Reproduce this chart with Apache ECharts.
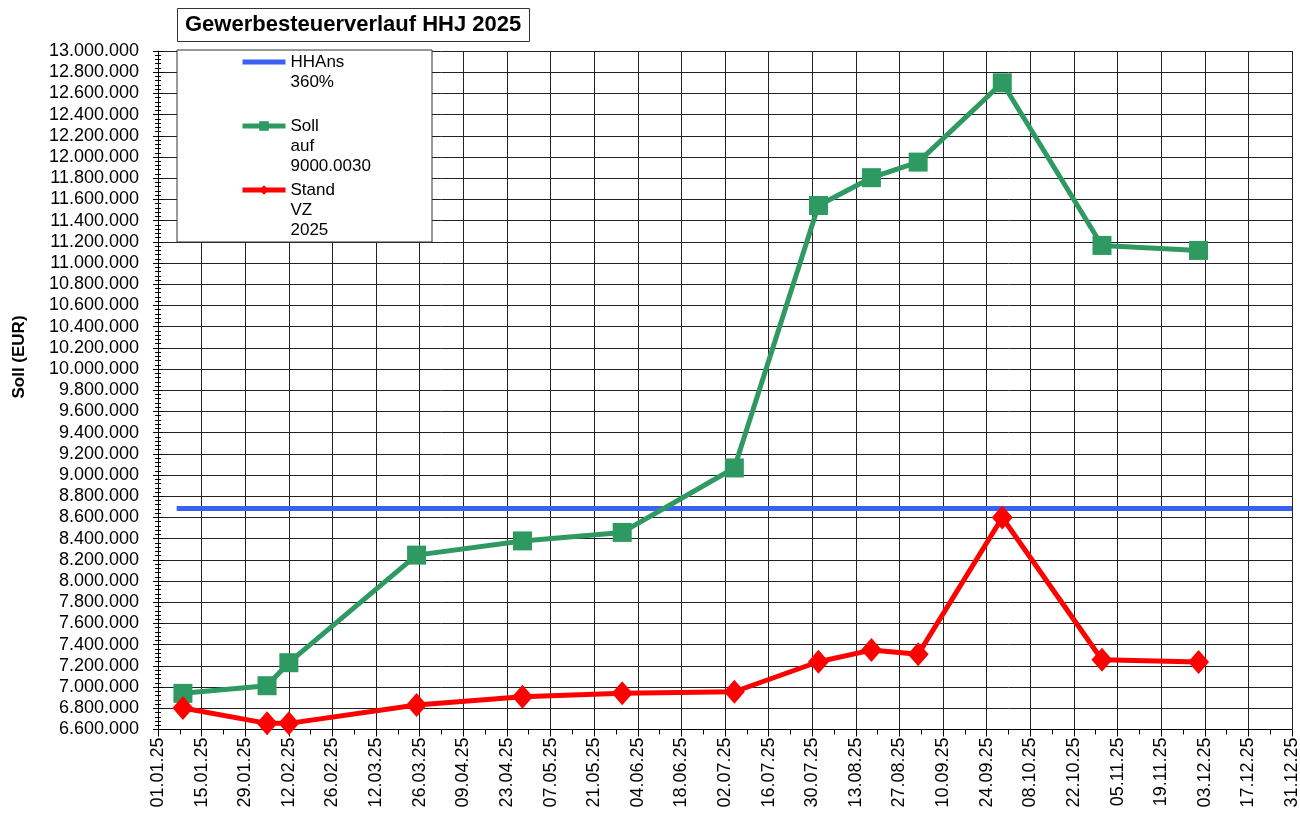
<!DOCTYPE html>
<html>
<head>
<meta charset="utf-8">
<script src="https://cdn.jsdelivr.net/npm/echarts@6/dist/echarts.min.js"></script>
<style>
  html, body { margin: 0; padding: 0; background: #fff; }
  #chart { width: 1300px; height: 815px; }
</style>
</head>
<body>
<div id="chart"></div>
<script>
  // Stichtage (dd.mm.yy) und Werte
  const dates = ['09.01.25', '05.02.25', '12.02.25', '25.03.25', '28.04.25', '30.05.25', '05.07.25',
    '01.08.25', '18.08.25', '02.09.25', '29.09.25', '31.10.25', '01.12.25']
  const sollValues = [6941000, 7013000, 7230000, 8245000, 8379000, 8459000, 9067000,
    11543000, 11805000, 11952000, 12700000, 11166000, 11119000]
  const standValues = [6803000, 6658000, 6658000, 6831000, 6909000, 6941000, 6956000,
    7239000, 7349000, 7309000, 8600000, 7258000, 7237000]
  const hhansDates = ['07.01.25', '31.12.25']
  const hhansValues = [8685000, 8685000]

  const names = ['HHAns\n360%', 'Soll\nauf\n9000.0030', 'Stand\nVZ\n2025']

  const DAY = 86400000
  const BASE = Date.UTC(2025, 0, 1)
  const pad = n => (n < 10 ? '0' : '') + n
  const dayOf = s => {
    const [d, m, y] = s.split('.').map(Number)
    return Math.round((Date.UTC(2000 + y, m - 1, d) - BASE) / DAY)
  }
  const fmtDay = n => {
    const dt = new Date(BASE + n * DAY)
    return pad(dt.getUTCDate()) + '.' + pad(dt.getUTCMonth() + 1) + '.' + String(dt.getUTCFullYear()).slice(2)
  }
  const fmtNum = v => String(v).replace(/\B(?=(\d{3})+(?!\d))/g, '.')

  const font = 'Liberation Sans'

  // one legend per entry; leading blank lines put the icon on the first text line
  const legendTops = [62, 126, 190]
  const legends = names.map((n, i) => {
    const lines = n.split('\n').length
    const lg = {
      data: [n],
      left: 240,
      top: legendTops[i] - (2 * lines - 1) * 10,
      orient: 'vertical',
      padding: 0,
      z: 20,
      itemWidth: 43,
      itemHeight: 12,
      formatter: name => '\n'.repeat(lines - 1) + name,
      lineStyle: { width: 5 },
      textStyle: { fontFamily: font, fontSize: 17, color: '#000', lineHeight: 20 }
    }
    if (i === 0) lg.itemStyle = { color: 'rgba(0,0,0,0)', borderWidth: 0 }
    return lg
  })

  const chart = echarts.init(document.getElementById('chart'))
  chart.setOption({
    backgroundColor: '#fff',
    animation: false,
    title: {
      text: 'Gewerbesteuerverlauf HHJ 2025',
      left: 177,
      top: 8,
      padding: [6, 8],
      borderWidth: 1,
      borderColor: '#333',
      textStyle: { fontFamily: font, fontSize: 22, fontWeight: 'bold', color: '#000' }
    },
    graphic: [
      {
        type: 'rect',
        shape: { x: 177, y: 50, width: 255, height: 192 },
        style: { fill: '#fff', stroke: '#333', lineWidth: 1 },
        z: 5
      },
      {
        type: 'text',
        x: 19, y: 357,
        rotation: Math.PI / 2,
        style: {
          text: 'Soll (EUR)', fontFamily: font, fontSize: 17, fontWeight: 'bold',
          fill: '#000', align: 'center', verticalAlign: 'middle'
        }
      }
    ],
    legend: legends,
    grid: { left: 158, right: 8, top: 51, bottom: 85.5, outerBoundsMode: 'none' },
    xAxis: {
      type: 'value',
      min: 0,
      max: 364,
      interval: 14,
      axisLine: { lineStyle: { color: '#000', width: 1 } },
      axisTick: { length: 7, lineStyle: { color: '#000' } },
      minorTick: { show: true, splitNumber: 2, length: 5, lineStyle: { color: '#000' } },
      splitLine: { show: true, lineStyle: { color: '#222', width: 1 } },
      axisLabel: {
        rotate: 90, margin: 8, fontFamily: font, fontSize: 18, color: '#000',
        formatter: v => fmtDay(v)
      }
    },
    yAxis: [
      {
        type: 'value',
        min: 6600000,
        max: 13000000,
        interval: 200000,
        axisLine: { show: true, lineStyle: { color: '#000', width: 1 } },
        axisTick: { show: true, length: 5, lineStyle: { color: '#000' } },
        minorTick: { show: true, splitNumber: 5, length: 3, lineStyle: { color: '#000' } },
        splitLine: { show: true, lineStyle: { color: '#222', width: 1 } },
        axisLabel: { margin: 19, fontFamily: font, fontSize: 18, color: '#000', formatter: v => fmtNum(v) }
      },
      {
        type: 'value',
        position: 'left',
        min: 6600000,
        max: 13000000,
        interval: 200000,
        axisLine: { show: false },
        axisTick: { show: true, inside: true, length: 5, lineStyle: { color: '#000' } },
        minorTick: { show: true, splitNumber: 5, length: 3, lineStyle: { color: '#000' } },
        splitLine: { show: false },
        axisLabel: { show: false }
      }
    ],
    series: [
      {
        name: names[0],
        type: 'line',
        symbol: 'none',
        data: hhansDates.map((d, i) => [dayOf(d), hhansValues[i]]),
        lineStyle: { color: '#3a62f2', width: 5 },
        itemStyle: { color: '#3a62f2' },
        z: 3
      },
      {
        name: names[1],
        type: 'line',
        symbol: 'rect',
        symbolSize: 19,
        data: dates.map((d, i) => [dayOf(d), sollValues[i]]),
        lineStyle: { color: '#2e9a62', width: 5 },
        itemStyle: { color: '#2e9a62' },
        z: 3
      },
      {
        name: names[2],
        type: 'line',
        symbol: 'diamond',
        symbolSize: [21, 24],
        data: dates.map((d, i) => [dayOf(d), standValues[i]]),
        lineStyle: { color: '#ff0000', width: 5 },
        itemStyle: { color: '#ff0000' },
        z: 4
      }
    ]
  })
</script>
</body>
</html>
